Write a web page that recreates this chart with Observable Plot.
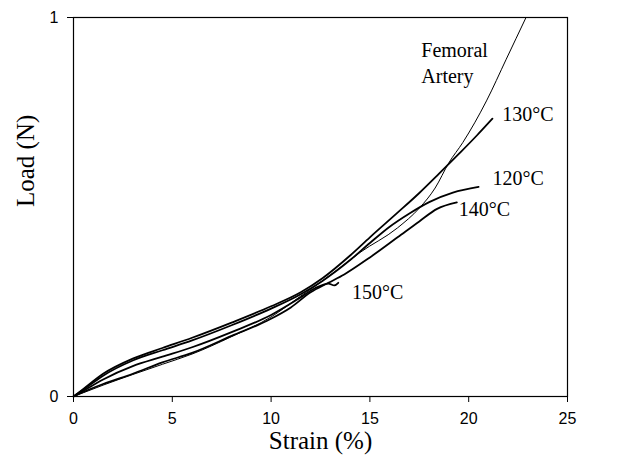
<!DOCTYPE html>
<html>
<head>
<meta charset="utf-8">
<script src="https://cdn.jsdelivr.net/npm/d3@7"></script>
<script src="https://cdn.jsdelivr.net/npm/@observablehq/plot@0.6"></script>
<style>
  html, body { margin: 0; padding: 0; background: #fff; }
</style>
</head>
<body>
<div id="chart"></div>
<script>
// Strain (%) / Load (N) readings per curve
const strain130 = [0, 0.5, 1.5, 3, 4.5, 6, 8, 10, 11.5, 12.6, 14, 15, 16.4, 17.5, 18.5, 19.5, 20.4, 21.2];
const load130   = [0, 0.02, 0.06, 0.1, 0.128, 0.155, 0.195, 0.238, 0.275, 0.312, 0.372, 0.42, 0.485, 0.537, 0.588, 0.64, 0.688, 0.733];

const strain120 = [0, 0.5, 1.5, 3, 4.5, 6, 8, 10, 11.5, 12.6, 14, 15, 16, 17, 18, 19.2, 20.5];
const load120   = [0, 0.018, 0.055, 0.095, 0.122, 0.148, 0.188, 0.232, 0.27, 0.305, 0.36, 0.405, 0.448, 0.483, 0.513, 0.538, 0.553];

const strain140 = [0, 0.5, 1.5, 3, 4.5, 6, 8, 9.8, 11, 12, 12.9, 13.7, 15, 16.4, 17.5, 18.4, 19.4];
const load140   = [0, 0.012, 0.033, 0.06, 0.09, 0.115, 0.16, 0.2, 0.235, 0.275, 0.3, 0.322, 0.367, 0.42, 0.462, 0.495, 0.512];

const strain150 = [0, 0.5, 1.5, 3, 4.5, 6, 8, 10, 11.3, 12.2, 12.9, 13.2, 13.4];
const load150   = [0, 0.015, 0.045, 0.08, 0.105, 0.13, 0.17, 0.215, 0.255, 0.285, 0.298, 0.293, 0.3];

const strainFem = [0, 0.5, 1.5, 3, 4.5, 6, 8, 10, 11.5, 13, 14.5, 16.4, 17.5, 18.3, 19, 19.7, 20.9, 21.9, 22.9];
const loadFem   = [0, 0.01, 0.03, 0.058, 0.085, 0.112, 0.158, 0.21, 0.265, 0.32, 0.38, 0.445, 0.497, 0.55, 0.617, 0.67, 0.78, 0.89, 1.0];

const xTicks = [0, 5, 10, 15, 20, 25];
const yTicks = [0, 1];

const labelText   = ["Femoral\nArtery", "130°C", "120°C", "140°C", "150°C"];
const labelStrain = [17.6, 21.7, 21.2, 19.5, 14.1];
const labelLoad   = [0.884, 0.749, 0.58, 0.499, 0.28];

const toRows = (xs, ys) => xs.map((x, i) => ({x, y: ys[i]}));
const samples = [
  toRows(strain130, load130),
  toRows(strain120, load120),
  toRows(strain140, load140),
  toRows(strain150, load150)
];
const femoral = toRows(strainFem, loadFem);
const labels = labelText.map((t, i) => ({t, x: labelStrain[i], y: labelLoad[i]}));

const serif = "Liberation Serif";
const sans = "Liberation Sans";

const chart = Plot.plot({
  width: 629,
  height: 470,
  marginLeft: 73,
  marginRight: 62,
  marginTop: 17,
  marginBottom: 74,
  x: {domain: [0, 25]},
  y: {domain: [0, 1]},
  style: {background: "#fff", color: "#000"},
  marks: [
    Plot.frame({stroke: "#000", strokeWidth: 1.2}),
    Plot.axisX({ticks: xTicks, tickFormat: d3.format("d"), tickSize: 6, tickPadding: 10, fontSize: 16, fontFamily: sans, label: null, stroke: "#000"}),
    Plot.axisY({ticks: yTicks, tickFormat: d3.format("d"), tickSize: 6, tickPadding: 9, fontSize: 16, fontFamily: sans, label: null, stroke: "#000"}),
    ...samples.map(d => Plot.line(d, {x: "x", y: "y", stroke: "#000", strokeWidth: 1.8, curve: "monotone-x"})),
    Plot.line(femoral, {x: "x", y: "y", stroke: "#000", strokeWidth: 1, curve: "monotone-x"}),
    Plot.text(labels, {x: "x", y: "y", text: "t", textAnchor: "start", fontSize: 20, fontFamily: serif, fill: "#000", lineHeight: 1.3}),
    Plot.text(["Strain (%)"], {frameAnchor: "bottom", dy: 52, fontSize: 25, fontFamily: serif, fill: "#000"}),
    Plot.text(["Load (N)"], {frameAnchor: "left", dx: -48, rotate: -90, fontSize: 25, fontFamily: serif, fill: "#000"})
  ]
});
document.getElementById("chart").appendChild(chart);
</script>
</body>
</html>
